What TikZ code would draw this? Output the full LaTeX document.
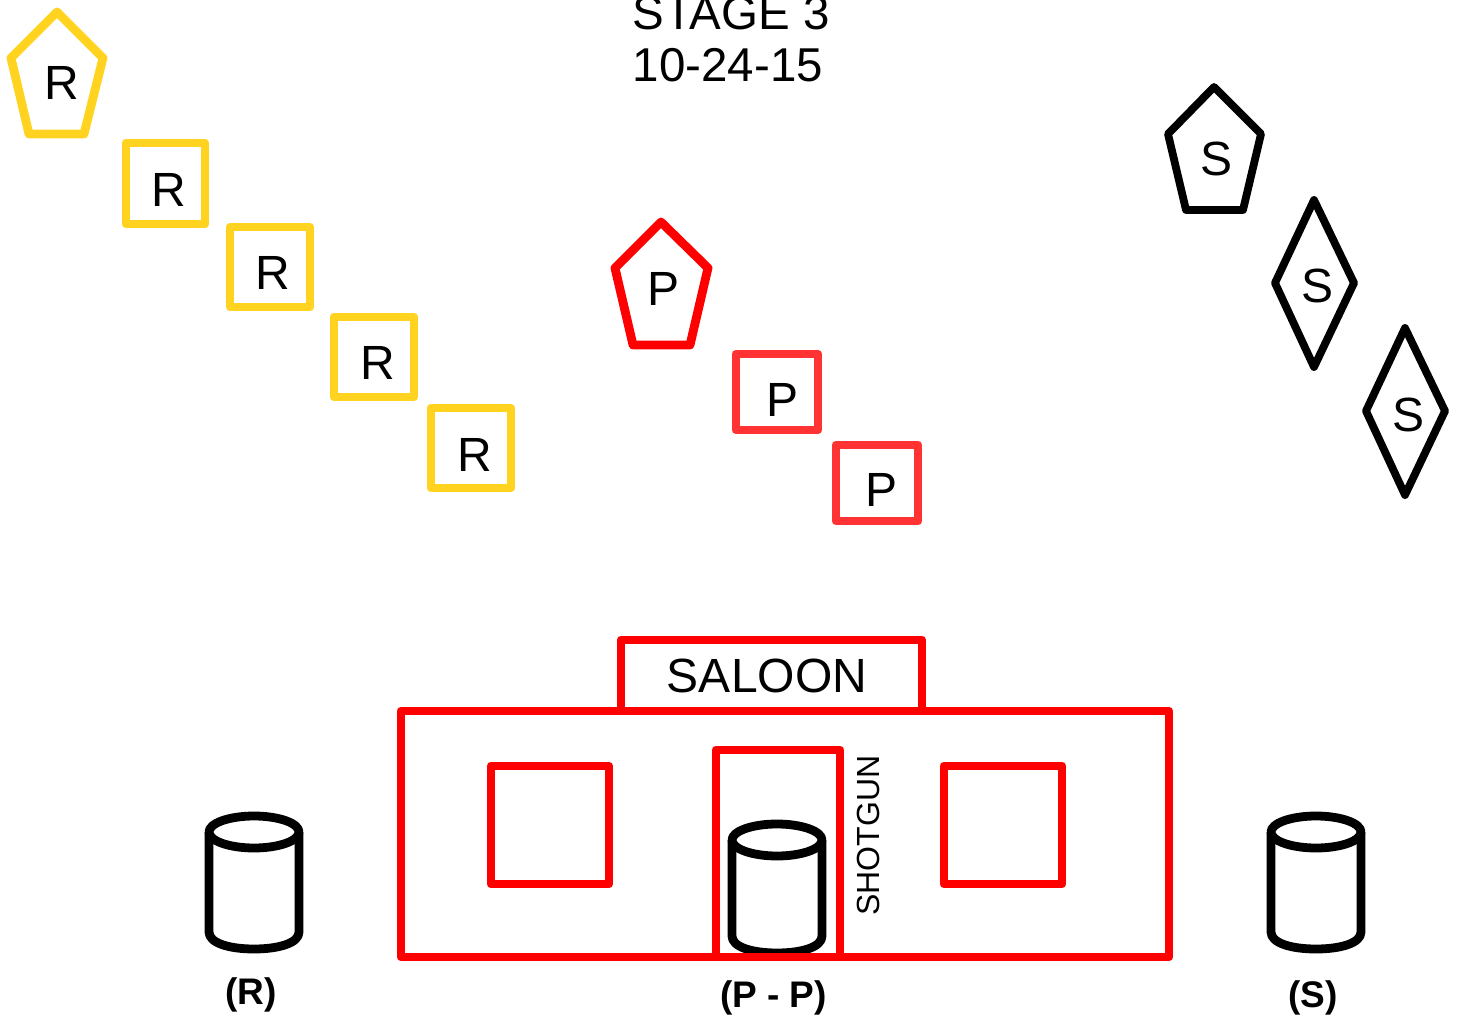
\documentclass[tikz,border=0pt]{standalone}
\usepackage{fontspec}
\setmainfont{Liberation Sans}
\definecolor{ryel}{HTML}{FFD320}
\definecolor{pred}{HTML}{FF3333}
\newcommand{\fs}[1]{\fontsize{#1}{#1}\selectfont}
\tikzset{
  x=1pt,y=-1pt,
  shp/.style={line width=8.8pt,line join=round,fill=none},
  thin shp/.style={line width=7.8pt,line join=round,fill=none},
  lbl/.style={inner sep=0pt,anchor=base,text=black,font=\fs{48}},
  bold/.style={inner sep=0pt,anchor=base,text=black,font=\fs{37}\bfseries},
}
\newcommand{\cyl}[3]{% cx, top y, y where the sides end
  \draw[shp,fill=white] (#1-45,#2) -- (#1-45,#3) .. controls (#1-45,#3+11) and (#1-25,#3+17) .. (#1,#3+17) .. controls (#1+25,#3+17) and (#1+45,#3+11) .. (#1+45,#3) -- (#1+45,#2);
  \draw[shp,fill=white] (#1,#2) ellipse [x radius=45, y radius=16];
}
\begin{document}
\begin{tikzpicture}
\useasboundingbox (0,0) rectangle (1457,1016);
\clip (0,0) rectangle (1457,1016);
% title
\node[lbl,font=\fs{47.5}] (t1) at (731,30) {STAGE 3};
\node[lbl,font=\fs{47.5}] (t2) at (728,82) {10-24-15};
% R group
\draw[shp,ryel] (57,12) -- (103,58) -- (84,134) -- (29,134) -- (11,58) -- cycle;
\draw[shp,ryel] (126,143) rectangle (205,224);
\draw[shp,ryel] (230,227) rectangle (310,307);
\draw[shp,ryel] (334,317) rectangle (414,397);
\draw[shp,ryel] (431,408) rectangle (511,488);
\node[lbl] (r0) at (61.5,100) {R};
\node[lbl] (r1) at (169,207) {R};
\node[lbl] (r2) at (273,290) {R};
\node[lbl] (r3) at (377.5,380) {R};
\node[lbl] (r4) at (474.5,471) {R};
% P group
\draw[shp,red] (661,222) -- (708,268) -- (690,345) -- (633,345) -- (615,268) -- cycle;
\draw[shp,pred] (736,354) rectangle (818,430);
\draw[shp,pred] (836,445) rectangle (918,521);
\node[lbl] (p0) at (663.5,306) {P};
\node[lbl] (p1) at (782,416) {P};
\node[lbl] (p2) at (881,506) {P};
% S group
\draw[thin shp,black] (1214,87) -- (1261,134) -- (1243,210) -- (1186,210) -- (1168,134) -- cycle;
\draw[thin shp,black] (1314,200) -- (1354,283) -- (1314,367) -- (1275,283) -- cycle;
\draw[thin shp,black] (1405,328) -- (1445,411) -- (1405,495) -- (1366,411) -- cycle;
\node[lbl] (s0) at (1216,176) {S};
\node[lbl] (s1) at (1317.5,303) {S};
\node[lbl] (s2) at (1408,431) {S};
% barrels
\cyl{254}{832}{932}
\cyl{777}{840}{936}
\cyl{1316}{832}{932}
% saloon
\draw[shp,red] (621,710) -- (621,640) -- (922,640) -- (922,710);
\draw[shp,red] (401,711) rectangle (1169,957);
\draw[shp,red] (491,766) rectangle (609,884);
\draw[shp,red] (944,766) rectangle (1062,884);
\draw[shp,red] (716,957) -- (716,750) -- (840,750) -- (840,957);
\node[lbl] (sal) at (767,692) {SALOON};
\node[lbl,font=\fs{32},rotate=90] (gun) at (879,835.5) {SHOTGUN};
% labels
\node[bold] (lr) at (251,1004) {(R)};
\node[bold] (lp) at (773.5,1007) {(P - P)};
\node[bold] (ls) at (1313,1007) {(S)};
\end{tikzpicture}
\end{document}
